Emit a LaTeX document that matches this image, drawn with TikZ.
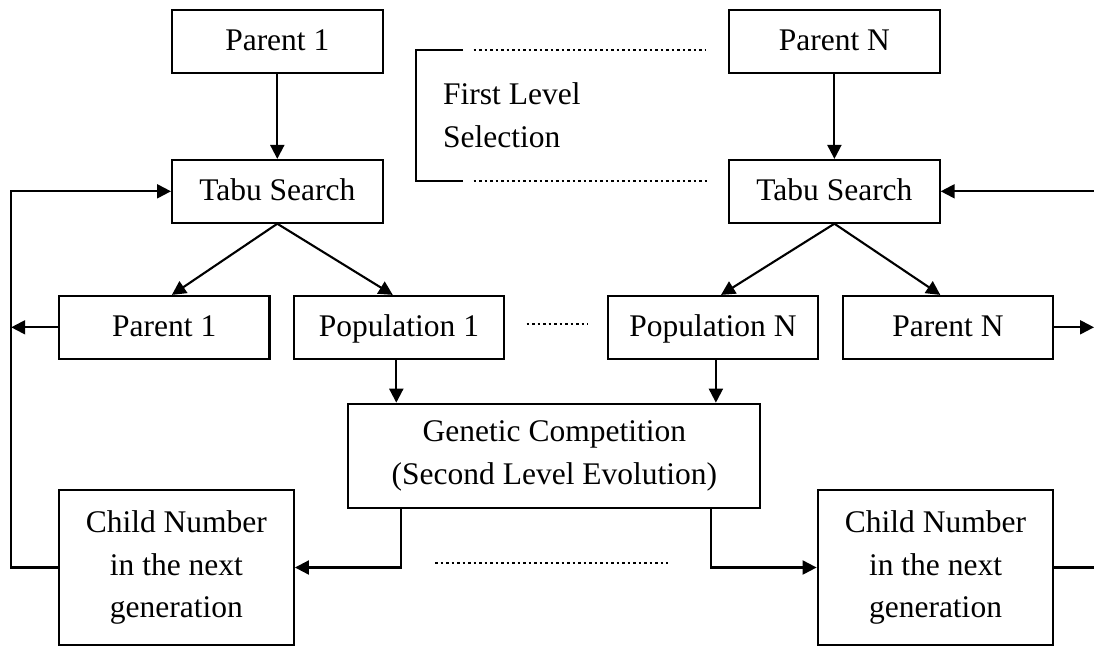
\documentclass[tikz,border=0pt]{standalone}
\usepackage{fontspec}
\setmainfont{Liberation Serif}
\usetikzlibrary{arrows.meta,calc}
\begin{document}
\begin{tikzpicture}[x=1pt,y=-1pt,
  box/.style={draw,line width=2.1pt,minimum height=62.7pt,minimum width=210.5pt,
              inner sep=0pt,align=center,font=\fontsize{31.5}{42.5}\selectfont},
  oneline/.style={box,text height=22pt,text depth=3.2pt},
  link/.style={line width=2.1pt},
  arr/.style={link,-{Triangle[length=14pt,width=14pt]}},
  dots/.style={line width=2.2pt,dash pattern=on 2.5pt off 3pt},
]
\useasboundingbox (0,0) rectangle (1094,646);

% first column
\node[oneline] (p1)   at (277.3,41.3)  {Parent 1};
\node[oneline] (ts1)  at (277.3,191.3) {Tabu Search};
\node[oneline] (pa1)  at (164.2,327.3) {Parent 1};
\node[oneline] (pop1) at (399.0,327.3) {Population 1};
\node[box,minimum width=235pt,minimum height=155.6pt] (ch1) at (176.4,567.5)
  {Child Number\\in the next\\generation};

% last column
\node[oneline] (pN)   at (834.4,41.3)  {Parent N};
\node[oneline] (tsN)  at (834.4,191.3) {Tabu Search};
\node[oneline] (popN) at (713.0,327.3) {Population N};
\node[oneline] (paN)  at (948.0,327.3) {Parent N};
\node[box,minimum width=235.7pt,minimum height=155.6pt] (chN) at (935.5,567.5)
  {Child Number\\in the next\\generation};

% shared competition stage
\node[box,minimum width=412pt,minimum height=104.6pt] (gen) at (554.4,456)
  {Genetic Competition\\(Second Level Evolution)};

% selection label with its bracket
\node[anchor=north west,inner sep=0pt,align=left,
      font=\fontsize{31.5}{43}\selectfont] (sel) at (443,82.4)
  {First Level\\Selection};
\draw[link] (463,50) -- (416,50) -- (416,180.7) -- (463,180.7);
\draw[dots] (473.5,50) -- (706,50);
\draw[dots] (473.5,180.7) -- (707.8,180.7);

% ellipsis between the columns
\draw[dots] (526.7,324) -- (587.3,324);
\draw[dots] (435,562.7) -- (667.5,562.7);

% frame edge coordinates for the feedback loops
\coordinate (lx) at (11.2,0);
\coordinate (rx) at (1094,0);

% flow
\draw[arr] (p1) -- (ts1);
\draw[arr] (pN) -- (tsN);
\draw[arr] (ts1.south) -- ([xshift=7.7pt]pa1.north);
\draw[arr] (ts1.south) -- ([xshift=-6.2pt]pop1.north);
\draw[arr] (tsN.south) -- ([xshift=8pt]popN.north);
\draw[arr] (tsN.south) -- ([xshift=-7.7pt]paN.north);
\draw[arr] ([xshift=-2.7pt]pop1.south) -- ([xshift=-2.7pt]pop1.south |- gen.north);
\draw[arr] ([xshift=2.9pt]popN.south) -- ([xshift=2.9pt]popN.south |- gen.north);
\draw[arr] ([xshift=53.3pt]gen.south west) |- (ch1.east);
\draw[arr] ([xshift=-50.5pt]gen.south east) |- (chN.west);

% feedback on the left
\draw[arr] (ch1.west) -- (ch1.west -| lx) |- (ts1.west);
\draw[arr] (pa1.west) -- (pa1.west -| lx);

% feedback on the right
\draw[link] (chN.east) -- (chN.east -| rx);
\draw[arr] (paN.east) -- (paN.east -| rx);
\draw[arr] (tsN.east -| rx) -- (tsN.east);
\end{tikzpicture}
\end{document}
